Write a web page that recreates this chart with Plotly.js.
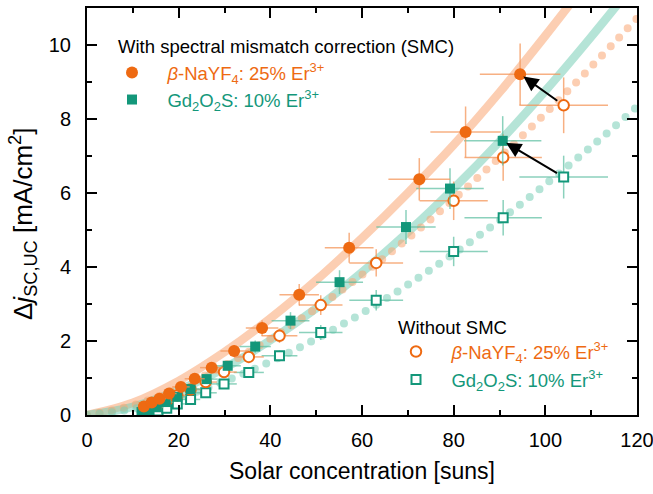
<!DOCTYPE html>
<html>
<head>
<meta charset="utf-8">
<script src="https://cdn.plot.ly/plotly-3.0.1.min.js"></script>
<style>
  html, body { margin: 0; padding: 0; background: #fff; }
  #chart { width: 653px; height: 494px; }
  .dotline path.js-line { stroke-linecap: round; }
</style>
</head>
<body>
<div id="chart"></div>
<script>
// Measured data (solar concentration in suns, delta j_SC,UC in mA/cm^2)
const xNaYF4SMC = [12.4, 14.1, 15.8, 17.9, 20.5, 23.5, 27.2, 32.1, 38.2, 46.3, 57.2, 72.5, 82.6, 94.5];
const yNaYF4SMC = [0.23, 0.34, 0.44, 0.58, 0.76, 0.98, 1.28, 1.73, 2.35, 3.25, 4.52, 6.37, 7.65, 9.21];
const xGdSMC    = [11.9, 13.5, 15.2, 17.2, 19.7, 22.6, 26.1, 30.7, 36.7, 44.4, 55.1, 69.6, 79.2, 90.7];
const yGdSMC    = [0.08, 0.13, 0.21, 0.35, 0.49, 0.70, 0.97, 1.33, 1.85, 2.55, 3.59, 5.08, 6.12, 7.41];
const xNoSMC    = [13.7, 15.5, 17.4, 19.7, 22.6, 25.9, 29.9, 35.3, 42.0, 51.0, 63.1, 80.0, 90.8, 104.0];
const yNaYF4No  = [0.21, 0.31, 0.40, 0.53, 0.69, 0.89, 1.16, 1.57, 2.14, 2.97, 4.11, 5.79, 6.96, 8.37];
const yGdNo     = [0.07, 0.11, 0.18, 0.30, 0.42, 0.60, 0.84, 1.15, 1.60, 2.23, 3.10, 4.42, 5.33, 6.43];

// Fit curves
const fitX          = [0, 10, 20, 30, 40, 50, 60, 70, 80, 90, 100, 110, 120];
const fitNaYF4SMC   = [0, 0.33, 0.92, 1.70, 2.61, 3.64, 4.78, 6.00, 7.30, 8.72, 10.25, 11.85, 13.50];
const fitGdSMC      = [0, 0.22, 0.67, 1.27, 2.02, 2.88, 3.86, 4.94, 6.12, 7.39, 8.76, 10.22, 11.75];
const fitNaYF4No    = [0, 0.26, 0.73, 1.34, 2.06, 2.88, 3.79, 4.77, 5.83, 6.96, 8.15, 9.41, 10.72];
const fitGdNo       = [0, 0.16, 0.47, 0.91, 1.44, 2.06, 2.75, 3.52, 4.36, 5.26, 6.23, 7.25, 8.33];

// Relative uncertainties (%)
const errXPct = 9.3;
const errYPct = 9.0;

const ORANGE = '#EE6A12';
const GREEN = '#13977A';
const ORANGE_ERR = 'rgba(244,150,90,0.75)';
const GREEN_ERR = 'rgba(90,190,160,0.7)';
const ORANGE_FIT = 'rgba(250,165,115,0.55)';
const GREEN_FIT = 'rgba(120,205,182,0.55)';

const FONT = 'Liberation Sans, Arial, sans-serif';
const nb = '\u00a0\u00a0\u00a0';
const TXT = 18.5;

// plot area in pixels (for placing legend / label boxes)
const L = 87, R = 637, T = 8, B = 415;
const px2x = p => (p - L) / (R - L);
const px2y = p => (B - p) / (B - T);

function errs(c) {
  return {
    error_x: {type: 'percent', value: errXPct, color: c, thickness: 1.5, width: 0},
    error_y: {type: 'percent', value: errYPct, color: c, thickness: 1.5, width: 0}
  };
}

const traces = [
  {x: fitX, y: fitNaYF4SMC, mode: 'lines', line: {color: ORANGE_FIT, width: 8.5, shape: 'spline'}, showlegend: false, hoverinfo: 'skip'},
  {x: fitX, y: fitGdSMC, mode: 'lines', line: {color: GREEN_FIT, width: 8.5, shape: 'spline'}, showlegend: false, hoverinfo: 'skip'},
  {x: fitX, y: fitNaYF4No, mode: 'lines', line: {color: ORANGE_FIT, width: 8, shape: 'spline', dash: '0px,12.5px'}, showlegend: false, hoverinfo: 'skip'},
  {x: fitX, y: fitGdNo, mode: 'lines', line: {color: GREEN_FIT, width: 8, shape: 'spline', dash: '0px,12.5px'}, showlegend: false, hoverinfo: 'skip'},
  Object.assign({x: xNoSMC, y: yGdNo, mode: 'markers', name: nb + 'Gd<sub>2</sub>O<sub>2</sub>S: 10% Er<sup>3+</sup>',
    marker: {symbol: 'square', size: 9, color: '#fff', line: {color: GREEN, width: 2}}, legend: 'legend4'}, errs(GREEN_ERR)),
  Object.assign({x: xNoSMC, y: yNaYF4No, mode: 'markers', name: nb + '<i>β</i>-NaYF<sub>4</sub>: 25% Er<sup>3+</sup>',
    marker: {symbol: 'circle', size: 10.5, color: '#fff', line: {color: ORANGE, width: 2}}, legend: 'legend3'}, errs(ORANGE_ERR)),
  Object.assign({x: xGdSMC, y: yGdSMC, mode: 'markers', name: nb + 'Gd<sub>2</sub>O<sub>2</sub>S: 10% Er<sup>3+</sup>',
    marker: {symbol: 'square', size: 10, color: GREEN}, legend: 'legend2'}, errs(GREEN_ERR)),
  Object.assign({x: xNaYF4SMC, y: yNaYF4SMC, mode: 'markers', name: nb + '<i>β</i>-NaYF<sub>4</sub>: 25% Er<sup>3+</sup>',
    marker: {symbol: 'circle', size: 12, color: ORANGE}, legend: 'legend'}, errs(ORANGE_ERR))
];

function leg(px, py, color) {
  return {x: px2x(px), y: px2y(py), xref: 'paper', yref: 'paper', xanchor: 'left', yanchor: 'middle',
    bgcolor: 'rgba(0,0,0,0)', borderwidth: 0, font: {family: FONT, size: TXT, color: color}};
}

const axisCommon = {
  showline: true, linewidth: 2, linecolor: '#000', mirror: 'ticks',
  ticks: 'inside', ticklen: 10, tickwidth: 2, tickcolor: '#000',
  showgrid: false, zeroline: false, automargin: false, ticklabeloverflow: 'allow',
  tickfont: {family: FONT, size: 20, color: '#000'}
};

const layout = {
  width: 653, height: 494,
  margin: {l: L, r: 653 - R, t: T, b: 494 - B, autoexpand: false},
  paper_bgcolor: '#fff', plot_bgcolor: '#fff',
  font: {family: FONT, color: '#000'},
  xaxis: Object.assign({}, axisCommon, {
    range: [0, 120], dtick: 20, tick0: 0, ticklabelstandoff: 6,
    minor: {ticks: 'inside', ticklen: 5, tickwidth: 2, tickcolor: '#000', dtick: 10, showgrid: false},
    title: {text: ''}
  }),
  yaxis: Object.assign({}, axisCommon, {
    range: [0, 11], dtick: 2, tick0: 0, ticklabelstandoff: 10,
    minor: {ticks: 'inside', ticklen: 5, tickwidth: 2, tickcolor: '#000', dtick: 1, showgrid: false},
    title: {text: ''}
  }),
  legend: leg(112, 73, ORANGE),
  legend2: leg(112, 100, GREEN),
  legend3: leg(396, 352, ORANGE),
  legend4: leg(396, 380, GREEN),
  annotations: [
    {text: 'Solar concentration [suns]', xref: 'paper', yref: 'paper',
     x: 0.5, y: px2y(471), xanchor: 'center', yanchor: 'middle', showarrow: false,
     font: {family: FONT, size: 23, color: '#000'}},
    {text: 'Δ<i>j</i><sub>SC,UC</sub> [mA/cm<sup>2</sup>]', xref: 'paper', yref: 'paper',
     x: px2x(23), y: px2y(224), xanchor: 'center', yanchor: 'middle', textangle: -90, showarrow: false,
     font: {family: FONT, size: 26, color: '#000'}},
    {text: 'With spectral mismatch correction (SMC)', xref: 'paper', yref: 'paper',
     x: px2x(116), y: px2y(46), xanchor: 'left', yanchor: 'middle', showarrow: false,
     font: {family: FONT, size: TXT, color: '#000'}},
    {text: 'Without SMC', xref: 'paper', yref: 'paper',
     x: px2x(396), y: px2y(327), xanchor: 'left', yanchor: 'middle', showarrow: false,
     font: {family: FONT, size: TXT, color: '#000'}},
    {x: xNaYF4SMC[13], y: yNaYF4SMC[13], ax: xNoSMC[13], ay: yNaYF4No[13], xref: 'x', yref: 'y', axref: 'x', ayref: 'y',
     text: '', showarrow: true, arrowhead: 2, arrowsize: 1.5, arrowwidth: 2, arrowcolor: '#000', standoff: 4, startstandoff: 6},
    {x: xGdSMC[13], y: yGdSMC[13], ax: xNoSMC[13], ay: yGdNo[13], xref: 'x', yref: 'y', axref: 'x', ayref: 'y',
     text: '', showarrow: true, arrowhead: 2, arrowsize: 1.5, arrowwidth: 2, arrowcolor: '#000', standoff: 4, startstandoff: 6}
  ],
  showlegend: true
};

Plotly.newPlot('chart', traces, layout, {displayModeBar: false, staticPlot: true}).then(function (gd) {
  const tr = gd.querySelectorAll('.scatterlayer .trace');
  [2, 3].forEach(function (i) { if (tr[i]) tr[i].classList.add('dotline'); });
});
</script>
</body>
</html>
